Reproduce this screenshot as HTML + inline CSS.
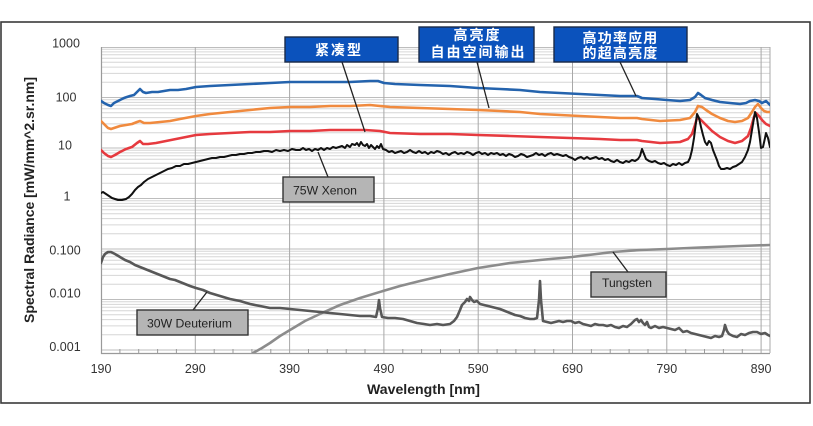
<!DOCTYPE html>
<html>
<head>
<meta charset="utf-8">
<style>
html,body{margin:0;padding:0;background:#fff;}
svg{display:block;}
</style>
</head>
<body>
<svg width="813" height="426" viewBox="0 0 813 426" xmlns="http://www.w3.org/2000/svg">
<defs>
<clipPath id="pc"><rect x="101" y="47" width="669" height="306"/></clipPath>
</defs>
<rect x="0" y="0" width="813" height="426" fill="#fff"/>
<rect x="1" y="22" width="809" height="381" fill="#fff" stroke="#3a3a3a" stroke-width="1.6"/>

<!-- minor horizontal grid -->
<path stroke="#d6d6d6" stroke-width="1" fill="none" d="
M101 82.3H770M101 73.4H770M101 67.1H770M101 62.2H770M101 58.2H770M101 54.8H770M101 51.9H770M101 49.3H770
M101 132.8H770M101 123.9H770M101 117.6H770M101 112.7H770M101 108.7H770M101 105.3H770M101 102.4H770M101 99.8H770
M101 183.3H770M101 174.4H770M101 168.1H770M101 163.2H770M101 159.2H770M101 155.8H770M101 152.9H770M101 150.3H770
M101 233.8H770M101 224.9H770M101 218.6H770M101 213.7H770M101 209.7H770M101 206.3H770M101 203.4H770M101 200.8H770
M101 284.3H770M101 275.4H770M101 269.1H770M101 264.2H770M101 260.2H770M101 256.8H770M101 253.9H770M101 251.3H770
M101 334.8H770M101 325.9H770M101 319.6H770M101 314.7H770M101 310.7H770M101 307.3H770M101 304.4H770M101 301.8H770"/>
<!-- major horizontal grid -->
<path stroke="#bdbdbd" stroke-width="1" fill="none" d="M101 47.5H770M101 97.5H770M101 148H770M101 198.5H770M101 249H770M101 299.5H770M101 350H770"/>
<!-- vertical grid -->
<path stroke="#a8a8a8" stroke-width="1" fill="none" d="M195.3 47V353M289.6 47V353M383.9 47V353M478.2 47V353M572.5 47V353M666.8 47V353M761.1 47V353M770 47V353"/>
<!-- axes -->
<path stroke="#9a9a9a" stroke-width="1.2" fill="none" d="M101.5 47V353.5H770"/>
<!-- x ticks every 20nm -->
<path stroke="#9a9a9a" stroke-width="1" fill="none" d="M119.9 349V353M138.7 349V353M157.6 349V353M176.4 349V353M214.2 349V353M233 349V353M251.9 349V353M270.8 349V353M308.5 349V353M327.3 349V353M346.2 349V353M365 349V353M402.8 349V353M421.6 349V353M440.5 349V353M459.4 349V353M497.1 349V353M515.9 349V353M534.8 349V353M553.7 349V353M591.4 349V353M610.2 349V353M629.1 349V353M648 349V353M685.7 349V353M704.5 349V353M723.4 349V353M742.3 349V353"/>

<g clip-path="url(#pc)" fill="none" stroke-linejoin="round" stroke-linecap="round">
<!-- Tungsten -->
<polyline stroke="#8c8c8c" stroke-width="2.6" points="250,356 253,353 262,348 270,343 280,336 290,330 305,321 322,313 340,305 360,298 383,291 400,286 420,281 450,274 478,268 510,263 540,260 572,257 613,252 640,250 667,249 700,247.5 740,246 770,245"/>
<!-- Deuterium -->
<polyline stroke="#585858" stroke-width="2.6" points="101,263 103,257 105,254 108,252 111,252 115,254 120,257 125,260 130,262 135,265 140,267 145,269 150,271 155,273 160,275 165,277 170,279 175,280 180,282 185,284 190,286 196,288 203,290 210,293 220,296 230,299 240,301 250,304 260,306 270,308 280,308 290,309 300,310 310,311 320,312 330,313 340,314 350,315 360,316 370,316 376,317 378,308 379,300 380,308 382,317 388,318 395,318 403,319 410,321 417,323 424,324 430,325 437,324 443,325 450,324 454,321 457,317 460,310 462,305 465,302 467,299 469,301 470,297 472,300 474,302 477,301 480,304 484,305 488,306 492,307 496,308 500,309 505,311 510,313 515,315 520,316 525,318 530,319 534,319 537,318 539,300 540,281 541,300 543,321 547,322 551,323 555,322 559,321 563,322 567,321 571,321 575,323 579,322 583,324 587,325 591,326 595,324 599,325 603,325 607,326 611,325 615,327 619,328 623,326 627,327 631,324 635,320 637,319 639,322 641,320 643,323 645,325 647,322 649,327 651,328 655,326 659,328 663,327 667,328 671,329 675,330 679,328 683,332 687,331 691,333 695,334 699,335 703,336 707,337 711,338 715,336 719,337 722,336 724,330 725,325 727,331 729,334 733,336 737,337 741,334 745,335 749,333 753,332 757,332 761,334 765,333 768,335 770,336"/>
<!-- Blue -->
<polyline stroke="#2463ad" stroke-width="2.6" points="101,101 104,103 108,105 111,106 114,103 118,101 124,98 130,96 134,95 137,92 140,89 143,92 146,93 152,92 158,92 164,91 170,90 178,90 186,89 196,87 210,86 230,85 250,84 270,83 290,82 310,82 330,82 350,82 370,81 378,81 384,83 395,84 420,85 450,86 478,88 500,89 520,90 540,92 560,93 580,94 600,95 620,96 637,96 642,98 655,99 667,100 680,101 690,100 695,97 698,93 701,95 705,98 712,100 720,102 730,103 740,104 746,103 750,101 755,100 759,101 762,103 766,101 770,105"/>
<!-- Orange -->
<polyline stroke="#f08a3e" stroke-width="2.6" points="101,121 104,124 108,128 111,129 114,128 120,126 126,125 132,124 137,122 140,121 144,123 150,123 160,122 170,121 180,119 196,116 210,114 230,112 250,110 270,108 290,107 310,107 330,106 350,106 370,105 380,106 390,107 420,108 450,109 478,110 500,111 520,112 540,114 560,115 580,116 600,117 620,118 637,118 642,119 660,121 680,120 690,118 695,112 698,106 702,107 706,110 712,114 720,118 728,121 735,122 742,121 748,118 752,112 755,107 758,104 761,108 764,111 767,112 770,112"/>
<!-- Red -->
<polyline stroke="#e63a3f" stroke-width="2.6" points="101,150 104,153 108,156 111,157 115,155 120,152 126,149 132,147 137,143 140,141 143,144 148,144 156,143 166,141 176,139 186,137 196,135 210,134 230,133 250,132 270,132 290,131 310,131 330,130 350,130 365,130 380,131 390,133 420,134 450,134 478,135 510,136 540,137 570,138 600,139 620,140 637,140 642,141 660,143 680,142 688,139 692,134 695,125 697,118 700,119 705,124 712,131 720,137 728,141 735,143 742,141 748,136 751,128 754,117 756,113 759,116 762,120 766,124 770,126"/>
<!-- Black Xenon -->
<polyline stroke="#111" stroke-width="2" points="101,193 103,192 106,194 109,196 112,198 115,199 118,200 122,200 126,199 129,197 132,194 135,190 138,187 141,185 144,182 148,179 152,177 156,175 160,173 164,171 168,169 172,168 176,166 180,166 184,164 188,164 192,163 196,162 200,161 204,160 208,159 212,158 216,158 220,157 224,157 228,156 232,155 236,155 240,154 244,154 248,153 252,153 256,152 260,152 264,151 268,151 272,152 276,150 280,151 284,150 288,151 292,149 296,150 300,150 303,148 306,150 309,149 312,151 315,149 318,150 321,148 324,150 327,148 330,149 333,147 336,148 339,147 342,146 345,148 347,145 350,147 352,144 355,145 357,143 359,146 361,142 363,145 365,146 367,144 369,148 371,145 373,147 375,149 377,146 379,148 381,144 383,149 386,150 389,152 392,151 395,153 398,152 401,151 404,153 407,152 410,150 413,152 416,153 419,151 422,153 425,152 428,154 431,152 434,153 437,151 440,152 443,154 446,153 449,155 452,153 455,152 458,154 461,153 464,154 467,152 470,153 473,155 476,153 479,152 482,154 485,153 488,155 491,153 494,154 497,153 500,155 503,154 506,156 509,154 512,155 515,157 518,156 521,154 524,155 527,157 530,156 533,155 536,153 539,155 542,154 545,156 548,154 551,153 554,155 557,154 560,155 563,156 566,155 569,157 572,158 575,160 578,158 581,157 584,159 587,157 590,159 593,158 596,157 599,159 602,158 605,160 608,159 611,161 614,162 617,160 620,162 623,163 626,161 629,162 632,160 635,161 638,159 640,156 642,149 644,154 646,159 649,161 652,162 655,161 658,163 661,164 664,163 667,165 670,166 673,164 676,165 679,163 682,165 685,163 688,162 690,158 692,150 694,138 696,122 697,114 699,118 701,127 703,135 705,142 707,145 709,141 711,143 713,150 715,155 717,160 719,166 721,169 724,169 727,168 730,169 733,167 736,166 739,164 742,162 745,157 748,150 750,142 752,130 754,118 755,112 757,118 759,132 761,148 763,147 765,138 766,133 768,138 770,147"/>
</g>

<!-- y tick labels -->
<g font-family="Liberation Sans, Arial, sans-serif" font-size="12.5" fill="#333" text-anchor="middle">
<text x="66" y="47.5">1000</text>
<text x="66" y="101.5">100</text>
<text x="65" y="149.5">10</text>
<text x="67" y="200.5">1</text>
<text x="65" y="254.5">0.100</text>
<text x="65" y="297.5">0.010</text>
<text x="65" y="351">0.001</text>
</g>
<!-- x tick labels -->
<g font-family="Liberation Sans, Arial, sans-serif" font-size="12.5" fill="#333" text-anchor="middle">
<text x="101" y="373">190</text>
<text x="195.3" y="373">290</text>
<text x="289.6" y="373">390</text>
<text x="383.9" y="373">490</text>
<text x="478.2" y="373">590</text>
<text x="572.5" y="373">690</text>
<text x="666.8" y="373">790</text>
<text x="761.1" y="373">890</text>
</g>
<!-- axis titles -->
<text x="423.5" y="394" font-family="Liberation Sans, Arial, sans-serif" font-size="14" font-weight="bold" fill="#222" text-anchor="middle" textLength="113" lengthAdjust="spacingAndGlyphs">Wavelength [nm]</text>
<text transform="translate(34,200) rotate(-90)" font-family="Liberation Sans, Arial, sans-serif" font-size="14" font-weight="bold" fill="#222" text-anchor="middle" textLength="246" lengthAdjust="spacingAndGlyphs">Spectral Radiance [mW/mm^2.sr.nm]</text>

<!-- leader lines -->
<g stroke="#222" stroke-width="1.3" fill="none">
<line x1="342" y1="62" x2="365" y2="132"/>
<line x1="477" y1="62" x2="489" y2="108"/>
<line x1="620" y1="62" x2="636" y2="96"/>
<line x1="328" y1="177" x2="318" y2="152"/>
<line x1="193" y1="310" x2="207" y2="292"/>
<line x1="628" y1="272" x2="613" y2="252"/>
</g>

<!-- blue callouts -->
<g fill="#0b52bc" stroke="#1b2a48" stroke-width="1.4">
<rect x="285" y="37" width="113" height="25"/>
<rect x="419" y="27" width="115" height="35"/>
<rect x="554" y="27" width="133" height="35"/>
</g>
<g font-family="Liberation Sans, 'Noto Sans CJK SC', sans-serif" font-size="14" fill="#fff" text-anchor="middle" font-weight="bold">
<text x="339" y="55" letter-spacing="2">紧凑型</text>
<text x="477.5" y="40" letter-spacing="2">高亮度</text>
<text x="478.5" y="57" letter-spacing="2">自由空间输出</text>
<text x="620.5" y="43" letter-spacing="1.2">高功率应用</text>
<text x="620.5" y="58" letter-spacing="1.2">的超高亮度</text>
</g>

<!-- gray callouts -->
<g fill="#b5b5b5" stroke="#333" stroke-width="1.4">
<rect x="283" y="177" width="91" height="25"/>
<rect x="137" y="310" width="111" height="25"/>
<rect x="591" y="272" width="75" height="25"/>
</g>
<g font-family="Liberation Sans, Arial, sans-serif" font-size="12" fill="#222" text-anchor="middle">
<text x="325" y="194.5" textLength="64" lengthAdjust="spacingAndGlyphs">75W Xenon</text>
<text x="189.5" y="327.5" textLength="85" lengthAdjust="spacingAndGlyphs">30W Deuterium</text>
<text x="627" y="287" textLength="50" lengthAdjust="spacingAndGlyphs">Tungsten</text>
</g>
</svg>
</body>
</html>
